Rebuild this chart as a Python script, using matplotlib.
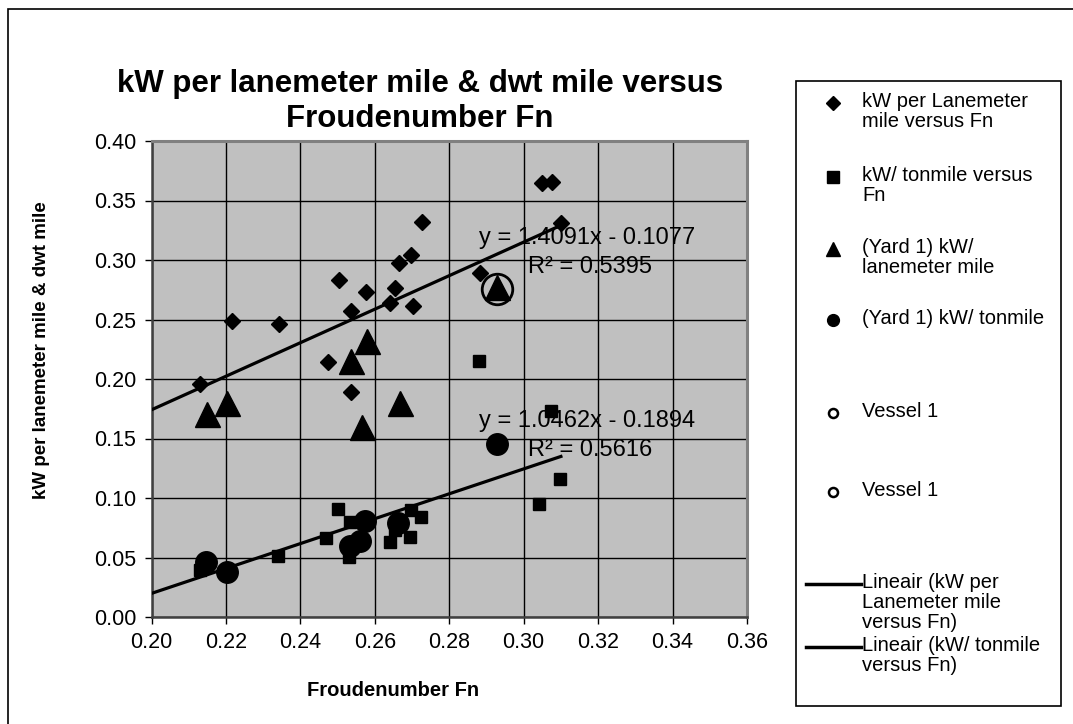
import matplotlib
matplotlib.use("Agg")
import matplotlib.pyplot as plt
from matplotlib.lines import Line2D
from matplotlib.patches import Rectangle
import numpy as np

plt.rcParams['font.family'] = ['Liberation Sans', 'DejaVu Sans']

# ---------------- data ----------------
lane_x = [0.2217, 0.2343, 0.2504, 0.2535, 0.2577, 0.2654, 0.2642, 0.2666, 0.2697,
          0.2702, 0.2727, 0.3048, 0.3076, 0.3099, 0.2882, 0.2130, 0.2475, 0.2535]
lane_y = [0.249, 0.246, 0.283, 0.257, 0.273, 0.2765, 0.2636, 0.2977, 0.304,
          0.2616, 0.332, 0.3644, 0.3658, 0.3308, 0.2893, 0.1958, 0.2146, 0.1888]

ton_x = [0.2502, 0.2533, 0.2470, 0.2339, 0.2531, 0.2130, 0.2698, 0.2725, 0.2694,
         0.2640, 0.2654, 0.2880, 0.3073, 0.3097, 0.3041]
ton_y = [0.0905, 0.0801, 0.0661, 0.0513, 0.0507, 0.0395, 0.0899, 0.0838, 0.0675,
         0.0628, 0.0730, 0.2154, 0.1734, 0.1160, 0.0950]

yard_lane_x = [0.2150, 0.2203, 0.2535, 0.2578, 0.2667, 0.2566, 0.2928]
yard_lane_y = [0.171, 0.1796, 0.215, 0.232, 0.1796, 0.160, 0.2776]

yard_ton_x = [0.2146, 0.2202, 0.2574, 0.2560, 0.2533, 0.2663, 0.2928]
yard_ton_y = [0.0465, 0.0375, 0.081, 0.064, 0.0597, 0.0787, 0.1454]

vessel_x = [0.2928]
vessel_y = [0.2760]

trend_x_range = [0.20, 0.31]
trend1_coef = (1.4091, -0.1077)
trend2_coef = (1.0462, -0.1894)
trend1_r2 = 0.5395
trend2_r2 = 0.5616

x_ticks = [0.20, 0.22, 0.24, 0.26, 0.28, 0.30, 0.32, 0.34, 0.36]
y_ticks = [0.00, 0.05, 0.10, 0.15, 0.20, 0.25, 0.30, 0.35, 0.40]

title_lines = ["kW per lanemeter mile & dwt mile versus", "Froudenumber Fn"]

legend_labels = ["kW per Lanemeter\nmile versus Fn",
                 "kW/ tonmile versus\nFn",
                 "(Yard 1) kW/\nlanemeter mile",
                 "(Yard 1) kW/ tonmile",
                 "Vessel 1",
                 "Vessel 1",
                 "Lineair (kW per\nLanemeter mile\nversus Fn)",
                 "Lineair (kW/ tonmile\nversus Fn)"]

# ---------------- figure ----------------
W, H = 1073, 724
fig = plt.figure(figsize=(W / 100, H / 100), dpi=100)
fig.patch.set_facecolor('white')

def fx(px):
    return px / W

def fy(py):
    return 1 - py / H

L, R, T, B = 151.5, 747, 141, 617
ax = fig.add_axes([fx(L), fy(B), fx(R) - fx(L), fy(T) - fy(B)])
ax.set_facecolor('#C0C0C0')
ax.set_xlim(0.20, 0.36)
ax.set_ylim(0.0, 0.40)
ax.set_xticks(x_ticks)
ax.set_yticks(y_ticks)
ax.set_xticklabels([f"{v:.2f}" for v in x_ticks])
ax.set_yticklabels([f"{v:.2f}" for v in y_ticks])
ax.grid(True, color='black', linewidth=1.0)
ax.set_axisbelow(True)
ax.tick_params(axis='both', direction='out', length=5, width=1, labelsize=15.5, colors='black', pad=6)
for side in ['top', 'right']:
    ax.spines[side].set_color('#808080')
    ax.spines[side].set_linewidth(2.2)
for side in ['left', 'bottom']:
    ax.spines[side].set_color('#404040')
    ax.spines[side].set_linewidth(1.8)

ax.plot(lane_x, lane_y, linestyle='none', marker='D', ms=8.5, color='black', zorder=3)
ax.plot(ton_x, ton_y, linestyle='none', marker='s', ms=8.5, color='black', zorder=3)
ax.plot(yard_lane_x, yard_lane_y, linestyle='none', marker='^', ms=18, color='black', zorder=4)
ax.plot(yard_ton_x, yard_ton_y, linestyle='none', marker='o', ms=15.5, color='black', zorder=4)
ax.plot(vessel_x, vessel_y, linestyle='none', marker='o', ms=22, mfc='none', mec='black', mew=2, zorder=5)

tx = np.array(trend_x_range)
ax.plot(tx, trend1_coef[0] * tx + trend1_coef[1], color='black', lw=2.3, zorder=3.5)
ax.plot(tx, trend2_coef[0] * tx + trend2_coef[1], color='black', lw=2.3, zorder=3.5)

def eq_text(c):
    return f"y = {c[0]:.4f}x - {abs(c[1]):.4f}"

fig.text(fx(479), fy(238), eq_text(trend1_coef), fontsize=17, va='center', ha='left', zorder=6)
fig.text(fx(528), fy(267), f"R² = {trend1_r2:.4f}", fontsize=17, va='center', ha='left', zorder=6)
fig.text(fx(479), fy(421), eq_text(trend2_coef), fontsize=17, va='center', ha='left', zorder=6)
fig.text(fx(528), fy(450), f"R² = {trend2_r2:.4f}", fontsize=17, va='center', ha='left', zorder=6)

# titles
fig.text(fx(420), fy(84), title_lines[0], fontsize=22.5, fontweight='bold', ha='center', va='center')
fig.text(fx(420), fy(119), title_lines[1], fontsize=22.5, fontweight='bold', ha='center', va='center')
fig.text(fx(42), fy(350), "kW per lanemeter mile & dwt mile", fontsize=13.5, fontweight='bold',
         rotation=90, ha='center', va='center')
fig.text(fx(393), fy(691), "Froudenumber Fn", fontsize=14.5, fontweight='bold', ha='center', va='center')

# outer border
fig.add_artist(Rectangle((fx(8), -0.05), 1.2, fy(9) + 0.05, transform=fig.transFigure,
                         fill=False, edgecolor='black', lw=1.2, clip_on=False))

# legend box
fig.add_artist(Rectangle((fx(796), fy(706)), fx(1061) - fx(796), fy(81) - fy(706),
                         transform=fig.transFigure, fill=True, facecolor='white',
                         edgecolor='black', lw=1.2))
leg_y = [103, 177, 249, 320, 413, 492, 584, 647]
leg_style = [dict(marker='D', ms=7), dict(marker='s', ms=8), dict(marker='^', ms=10),
             dict(marker='o', ms=8.5), dict(marker='o', ms=6.5, mfc='none', mew=1.8),
             dict(marker='o', ms=6.5, mfc='none', mew=1.8), None, None]
for y, lab, st in zip(leg_y, legend_labels, leg_style):
    if st is None:
        fig.add_artist(Line2D([fx(806), fx(861)], [fy(y), fy(y)], color='black', lw=2.5,
                              transform=fig.transFigure))
    else:
        fig.add_artist(Line2D([fx(833)], [fy(y)], linestyle='none', color='black',
                              transform=fig.transFigure, **st))
    fig.text(fx(862), fy(y - 11), lab, fontsize=14.5, ha='left', va='top', linespacing=1.08)

fig.savefig("out.png", dpi=100)
